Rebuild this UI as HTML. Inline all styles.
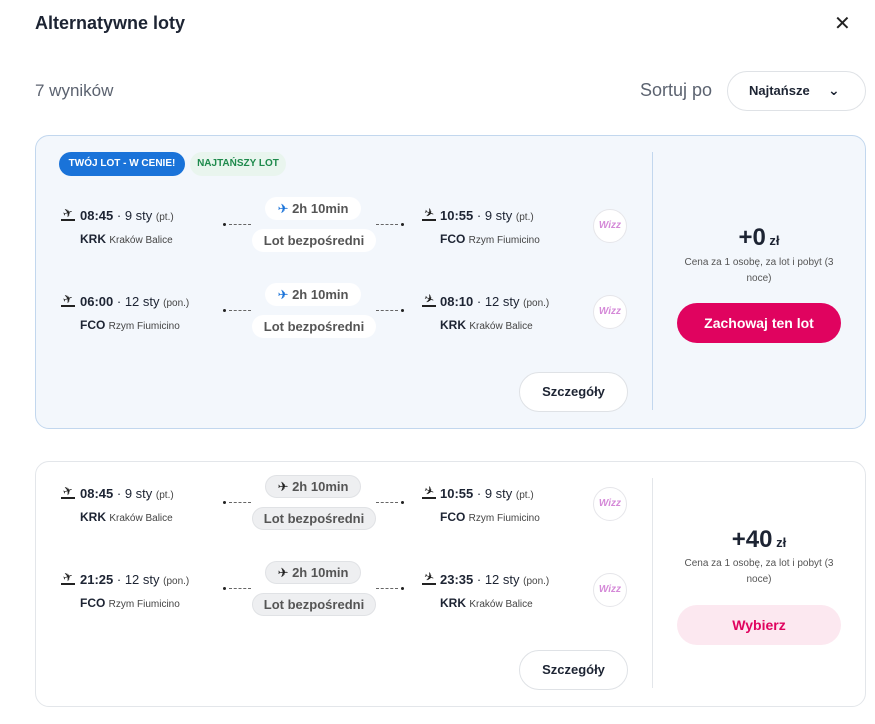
<!DOCTYPE html>
<html><head><meta charset="utf-8"><style>
*{margin:0;padding:0;box-sizing:border-box}
body{width:875px;height:724px;background:#fff;font-family:"Liberation Sans","DejaVu Sans",sans-serif;color:#1d2433;position:relative;overflow:hidden}
.a{position:absolute;white-space:nowrap}
.card{position:absolute;left:35px;width:831px;border-radius:14px}
.t{font-size:13px;font-weight:bold;color:#1d2433}
.t span{font-weight:normal}
.t small{font-weight:normal;font-size:10px;color:#444}
.ap{font-size:12px;font-weight:bold}
.ap span{font-weight:normal;font-size:10px;color:#444}
.dot{position:absolute;width:3px;height:3px;border-radius:50%;background:#222}
.dash{position:absolute;height:0;border-top:1px dashed #666}
.p1{position:absolute;height:23px;border-radius:12px;font-size:13px;font-weight:bold;color:#555;text-align:center;line-height:23px}
.p2{position:absolute;height:23px;border-radius:12px;font-size:13px;font-weight:bold;color:#555;text-align:center;line-height:23px}
.w .p1,.w .p2{background:#fff}
.g .p1,.g .p2{background:#eeeff1;border:1px solid #e0e2e5;line-height:21px}
.wz{position:absolute;width:34px;height:34px;border-radius:50%;background:#fff;border:1px solid #e6e6ea;font-size:10px;font-style:italic;font-weight:bold;color:#d58ad8;text-align:center;line-height:32px}
.ic{width:14px;height:13px;border-bottom:2px solid #222;font-size:12px;line-height:11px;text-align:center;color:#222}
.ic i{display:inline-block;font-style:normal;transform:rotate(-20deg)}
.ic.d i{transform:rotate(20deg)}
.btn{position:absolute;border-radius:20px;text-align:center;font-size:13px;font-weight:bold}
</style></head><body>
<div class="a" style="left:35px;top:13px;font-size:18px;font-weight:bold;color:#1d2433">Alternatywne loty</div>
<div class="a" style="left:834px;top:11px;font-size:20px;color:#222">✕</div>
<div class="a" style="left:35px;top:81px;font-size:17px;color:#5c6370">7 wyników</div>
<div class="a" style="left:640px;top:80px;font-size:18px;color:#5c6370">Sortuj po</div>
<div class="a" style="left:727px;top:71px;width:139px;height:40px;border:1px solid #dfe2e6;border-radius:20px;font-size:13px;font-weight:bold;line-height:38px;padding-left:21px">Najtańsze<span style="position:absolute;left:100px;top:-1px;font-size:14px">⌄</span></div>

<div class="card w" style="top:135px;height:294px;background:#f3f7fc;border:1px solid #c2d7ee"></div>
<div class="a" style="left:652px;top:152px;width:1px;height:258px;background:#c2d7ee"></div>
<div class="a" style="left:59px;top:152px;height:24px;width:126px;background:#1a73d9;border-radius:12px;color:#fff;font-size:10px;font-weight:bold;text-align:center;line-height:24px">TWÓJ LOT - W CENIE!</div>
<div class="a" style="left:190px;top:152px;height:24px;width:96px;background:#e9f5ee;border-radius:12px;color:#1e8a4c;font-size:10px;font-weight:bold;text-align:center;line-height:24px">NAJTAŃSZY LOT</div>

<div class="w">
<div class="a ic" style="left:61px;top:208px"><i>✈</i></div>
<div class="a t" style="left:80px;top:208px">08:45 <span>· 9 sty</span> <small>(pt.)</small></div>
<div class="a ap" style="left:80px;top:232px">KRK <span>Kraków Balice</span></div>
<div class="dot" style="left:223px;top:223px"></div><div class="dash" style="left:229px;top:224px;width:22px"></div>
<div class="dash" style="left:376px;top:224px;width:22px"></div><div class="dot" style="left:401px;top:223px"></div>
<div class="p1" style="left:265px;top:197px;width:96px"><span style="color:#1a73d9">✈</span> 2h 10min</div>
<div class="p2" style="left:252px;top:229px;width:124px">Lot bezpośredni</div>
<div class="a ic d" style="left:422px;top:208px"><i>✈</i></div>
<div class="a t" style="left:440px;top:208px">10:55 <span>· 9 sty</span> <small>(pt.)</small></div>
<div class="a ap" style="left:440px;top:232px">FCO <span>Rzym Fiumicino</span></div>
<div class="wz" style="left:593px;top:209px">Wizz</div>

<div class="a ic" style="left:61px;top:294px"><i>✈</i></div>
<div class="a t" style="left:80px;top:294px">06:00 <span>· 12 sty</span> <small>(pon.)</small></div>
<div class="a ap" style="left:80px;top:318px">FCO <span>Rzym Fiumicino</span></div>
<div class="dot" style="left:223px;top:309px"></div><div class="dash" style="left:229px;top:310px;width:22px"></div>
<div class="dash" style="left:376px;top:310px;width:22px"></div><div class="dot" style="left:401px;top:309px"></div>
<div class="p1" style="left:265px;top:283px;width:96px"><span style="color:#1a73d9">✈</span> 2h 10min</div>
<div class="p2" style="left:252px;top:315px;width:124px">Lot bezpośredni</div>
<div class="a ic d" style="left:422px;top:294px"><i>✈</i></div>
<div class="a t" style="left:440px;top:294px">08:10 <span>· 12 sty</span> <small>(pon.)</small></div>
<div class="a ap" style="left:440px;top:318px">KRK <span>Kraków Balice</span></div>
<div class="wz" style="left:593px;top:295px">Wizz</div>
</div>
<div class="btn" style="left:519px;top:372px;width:109px;height:40px;background:#fff;border:1px solid #dfe2e6;line-height:38px">Szczegóły</div>
<div class="a" style="left:652px;top:224px;width:214px;text-align:center;font-size:24px;font-weight:bold">+0<span style="font-size:13px"> zł</span></div>
<div class="a" style="left:675px;top:255px;width:168px;white-space:normal;text-align:center;font-size:10px;line-height:16px;color:#555">Cena za 1 osobę, za lot i pobyt (3 noce)</div>
<div class="btn" style="left:677px;top:303px;width:164px;height:40px;background:#e0035f;color:#fff;line-height:40px;font-size:14px">Zachowaj ten lot</div>

<div class="card" style="top:461px;height:246px;background:#fff;border:1px solid #e3e6ea"></div>
<div class="a" style="left:652px;top:478px;width:1px;height:210px;background:#e3e6ea"></div>
<div class="g">
<div class="a ic" style="left:61px;top:486px"><i>✈</i></div>
<div class="a t" style="left:80px;top:486px">08:45 <span>· 9 sty</span> <small>(pt.)</small></div>
<div class="a ap" style="left:80px;top:510px">KRK <span>Kraków Balice</span></div>
<div class="dot" style="left:223px;top:501px"></div><div class="dash" style="left:229px;top:502px;width:22px"></div>
<div class="dash" style="left:376px;top:502px;width:22px"></div><div class="dot" style="left:401px;top:501px"></div>
<div class="p1" style="left:265px;top:475px;width:96px"><span style="color:#222">✈</span> 2h 10min</div>
<div class="p2" style="left:252px;top:507px;width:124px">Lot bezpośredni</div>
<div class="a ic d" style="left:422px;top:486px"><i>✈</i></div>
<div class="a t" style="left:440px;top:486px">10:55 <span>· 9 sty</span> <small>(pt.)</small></div>
<div class="a ap" style="left:440px;top:510px">FCO <span>Rzym Fiumicino</span></div>
<div class="wz" style="left:593px;top:487px">Wizz</div>

<div class="a ic" style="left:61px;top:572px"><i>✈</i></div>
<div class="a t" style="left:80px;top:572px">21:25 <span>· 12 sty</span> <small>(pon.)</small></div>
<div class="a ap" style="left:80px;top:596px">FCO <span>Rzym Fiumicino</span></div>
<div class="dot" style="left:223px;top:587px"></div><div class="dash" style="left:229px;top:588px;width:22px"></div>
<div class="dash" style="left:376px;top:588px;width:22px"></div><div class="dot" style="left:401px;top:587px"></div>
<div class="p1" style="left:265px;top:561px;width:96px"><span style="color:#222">✈</span> 2h 10min</div>
<div class="p2" style="left:252px;top:593px;width:124px">Lot bezpośredni</div>
<div class="a ic d" style="left:422px;top:572px"><i>✈</i></div>
<div class="a t" style="left:440px;top:572px">23:35 <span>· 12 sty</span> <small>(pon.)</small></div>
<div class="a ap" style="left:440px;top:596px">KRK <span>Kraków Balice</span></div>
<div class="wz" style="left:593px;top:573px">Wizz</div>
</div>
<div class="btn" style="left:519px;top:650px;width:109px;height:40px;background:#fff;border:1px solid #dfe2e6;line-height:38px">Szczegóły</div>
<div class="a" style="left:652px;top:526px;width:214px;text-align:center;font-size:24px;font-weight:bold">+40<span style="font-size:13px"> zł</span></div>
<div class="a" style="left:675px;top:556px;width:168px;white-space:normal;text-align:center;font-size:10px;line-height:16px;color:#555">Cena za 1 osobę, za lot i pobyt (3 noce)</div>
<div class="btn" style="left:677px;top:605px;width:164px;height:40px;background:#fce8f0;color:#e0035f;line-height:40px;font-size:14px">Wybierz</div>
</body></html>
